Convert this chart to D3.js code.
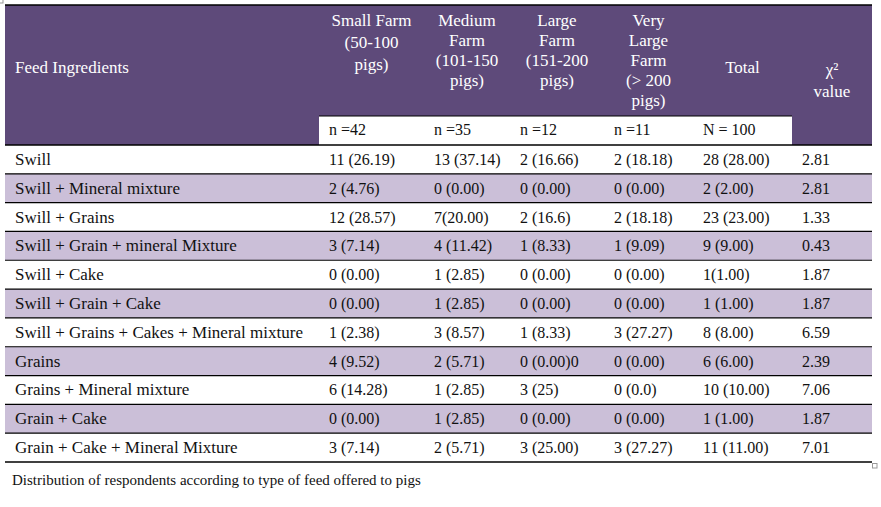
<!DOCTYPE html>
<html lang="en">
<head>
  <meta charset="UTF-8" />
  <title>Feed offered to pigs</title>
  <script src="https://d3js.org/d3.v7.min.js"></script>
  <style>
    body {
      margin: 0;
      background: #fff;
      font-family: "Liberation Serif", serif;
    }
    svg text {
      font-family: "Liberation Serif", serif;
    }
  </style>
</head>
<body>
  <div id="vis-container"></div>

  <script>
    // table content
    const ingredients = [
      "Swill",
      "Swill + Mineral mixture",
      "Swill + Grains",
      "Swill + Grain + mineral Mixture",
      "Swill + Cake",
      "Swill + Grain + Cake",
      "Swill + Grains + Cakes + Mineral mixture",
      "Grains",
      "Grains + Mineral mixture",
      "Grain + Cake",
      "Grain + Cake + Mineral Mixture"
    ];
    const smallFarm = ["11 (26.19)", "2 (4.76)", "12 (28.57)", "3 (7.14)", "0 (0.00)", "0 (0.00)", "1 (2.38)", "4 (9.52)", "6 (14.28)", "0 (0.00)", "3 (7.14)"];
    const mediumFarm = ["13 (37.14)", "0 (0.00)", "7(20.00)", "4 (11.42)", "1 (2.85)", "1 (2.85)", "3 (8.57)", "2 (5.71)", "1 (2.85)", "1 (2.85)", "2 (5.71)"];
    const largeFarm = ["2 (16.66)", "0 (0.00)", "2 (16.6)", "1 (8.33)", "0 (0.00)", "0 (0.00)", "1 (8.33)", "0 (0.00)0", "3 (25)", "0 (0.00)", "3 (25.00)"];
    const veryLargeFarm = ["2 (18.18)", "0 (0.00)", "2 (18.18)", "1 (9.09)", "0 (0.00)", "0 (0.00)", "3 (27.27)", "0 (0.00)", "0 (0.0)", "0 (0.00)", "3 (27.27)"];
    const total = ["28 (28.00)", "2 (2.00)", "23 (23.00)", "9 (9.00)", "1(1.00)", "1 (1.00)", "8 (8.00)", "6 (6.00)", "10 (10.00)", "1 (1.00)", "11 (11.00)"];
    const chiSquare = ["2.81", "2.81", "1.33", "0.43", "1.87", "1.87", "6.59", "2.39", "7.06", "1.87", "7.01"];

    const groupHeaders = [
      ["Small Farm", "(50-100", "pigs)"],
      ["Medium", "Farm", "(101-150", "pigs)"],
      ["Large", "Farm", "(151-200", "pigs)"],
      ["Very", "Large", "Farm", "(> 200", "pigs)"]
    ];
    const nLabels = ["n =42", "n =35", "n =12", "n =11", "N = 100"];
    const caption = "Distribution of respondents according to type of feed offered to pigs";

    const columns = [ingredients, smallFarm, mediumFarm, largeFarm, veryLargeFarm, total, chiSquare];

    // layout
    const W = 881, H = 507;
    const colEdges = [5, 319, 424, 510, 604, 693, 792, 872];
    const headTop = 5, subTop = 116, bodyTop = 145, bodyBottom = 462;
    const purple = "#5e4a7a", lavender = "#cbbfd8";
    const fs = "17px", numFs = "16px";

    const svg = d3.select("#vis-container")
      .append("svg")
      .attr("width", W)
      .attr("height", H);

    const x = i => colEdges[i];
    const colW = i => colEdges[i + 1] - colEdges[i];

    const y = d3.scaleBand()
      .domain(d3.range(ingredients.length))
      .range([bodyTop, bodyBottom]);

    // header block
    svg.append("rect")
      .attr("x", x(0)).attr("y", headTop)
      .attr("width", colEdges[7] - colEdges[0])
      .attr("height", bodyTop - headTop)
      .attr("fill", purple);

    // sub header (n =) strip
    svg.append("rect")
      .attr("x", x(1)).attr("y", subTop)
      .attr("width", colEdges[6] - colEdges[1])
      .attr("height", bodyTop - subTop)
      .attr("fill", "#fff");

    // body row backgrounds
    svg.selectAll("rect.row")
      .data(ingredients)
      .enter()
      .append("rect")
      .attr("class", "row")
      .attr("x", x(0))
      .attr("y", (d, i) => y(i))
      .attr("width", colEdges[7] - colEdges[0])
      .attr("height", y.bandwidth())
      .attr("fill", (d, i) => i % 2 ? lavender : "#fff");

    // row rules
    svg.selectAll("line.rule")
      .data(d3.range(1, ingredients.length))
      .enter()
      .append("line")
      .attr("class", "rule")
      .attr("x1", x(0)).attr("x2", colEdges[7])
      .attr("y1", i => y(i)).attr("y2", i => y(i))
      .attr("stroke", "#000")
      .attr("stroke-width", 1.2);

    [[x(0), colEdges[7], headTop, 1.6],
     [x(1), colEdges[6], subTop, 1.2],
     [x(0), colEdges[7], bodyTop, 1.6],
     [x(0), colEdges[7], bodyBottom, 1.6]].forEach(([a, b, yy, sw]) => {
      svg.append("line")
        .attr("x1", a).attr("x2", b)
        .attr("y1", yy).attr("y2", yy)
        .attr("stroke", "#000")
        .attr("stroke-width", sw);
    });

    // header texts
    svg.append("text")
      .attr("x", x(0) + 10).attr("y", 73)
      .attr("fill", "#fff")
      .style("font-size", fs)
      .text("Feed Ingredients");

    groupHeaders.forEach((lines, k) => {
      const ci = k + 1;
      svg.append("text")
        .attr("x", x(ci) + colW(ci) / 2)
        .attr("text-anchor", "middle")
        .attr("fill", "#fff")
        .style("font-size", fs)
        .selectAll("tspan")
        .data(lines)
        .enter()
        .append("tspan")
        .attr("x", x(ci) + colW(ci) / 2)
        .attr("y", (d, j) => 26 + j * (k === 0 ? 22 : 20))
        .text(d => d);
    });

    svg.append("text")
      .attr("x", x(5) + colW(5) / 2).attr("y", 73)
      .attr("text-anchor", "middle")
      .attr("fill", "#fff")
      .style("font-size", fs)
      .text("Total");

    const chi = svg.append("text")
      .attr("text-anchor", "middle")
      .attr("fill", "#fff")
      .style("font-size", fs);
    chi.append("tspan")
      .attr("x", x(6) + colW(6) / 2).attr("y", 75)
      .text("χ²");
    chi.append("tspan")
      .attr("x", x(6) + colW(6) / 2).attr("y", 97)
      .text("value");

    svg.selectAll("text.n")
      .data(nLabels)
      .enter()
      .append("text")
      .attr("class", "n")
      .attr("x", (d, i) => x(i + 1) + 10)
      .attr("y", subTop + 19)
      .attr("fill", "#111")
      .style("font-size", numFs)
      .text(d => d);

    // body cells
    columns.forEach((col, ci) => {
      svg.selectAll(null)
        .data(col)
        .enter()
        .append("text")
        .attr("x", x(ci) + 10)
        .attr("y", (d, i) => y(i) + y.bandwidth() / 2 + 5.5)
        .attr("fill", "#111")
        .style("font-size", ci === 0 ? fs : numFs)
        .text(d => d);
    });

    // caption
    svg.append("text")
      .attr("x", 12).attr("y", 485)
      .attr("fill", "#111")
      .style("font-size", "15px")
      .text(caption);

    // little anchor marks
    svg.append("rect")
      .attr("x", -2).attr("y", -2).attr("width", 5).attr("height", 5)
      .attr("fill", "none").attr("stroke", "#999");
    svg.append("rect")
      .attr("x", 872.5).attr("y", 463.5).attr("width", 4.5).attr("height", 4.5)
      .attr("fill", "none").attr("stroke", "#999");
  </script>
</body>
</html>
